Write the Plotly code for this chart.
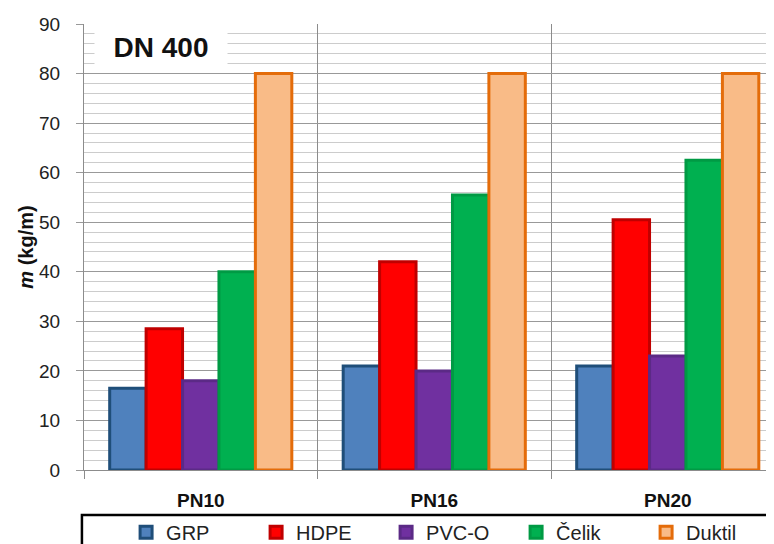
import plotly.graph_objects as go

categories = ["PN10", "PN16", "PN20"]
series_names = ["GRP", "HDPE", "PVC-O", "Čelik", "Duktil"]
grp = [16.5, 21.0, 21.0]
hdpe = [28.5, 42.0, 50.5]
pvco = [18.0, 20.0, 23.0]
celik = [40.0, 55.5, 62.5]
duktil = [80.0, 80.0, 80.0]
y_ticks = [0, 10, 20, 30, 40, 50, 60, 70, 80, 90]

values = [grp, hdpe, pvco, celik, duktil]
fills = ["#4F81BD", "#FF0000", "#7030A0", "#00B050", "#F9BB87"]
lines = ["#1F4E79", "#C00000", "#5B2A86", "#009A44", "#E46C0A"]

font = "Liberation Sans, Arial, sans-serif"

fig = go.Figure()
for name, vals, fc, lc in zip(series_names, values, fills, lines):
    fig.add_trace(go.Bar(
        x=categories, y=vals, name=name,
        marker=dict(color=fc, line=dict(color=lc, width=3)),
    ))

fig.update_layout(
    width=766, height=536,
    margin=dict(l=76, r=0, t=16, b=74, autoexpand=False),
    paper_bgcolor="white", plot_bgcolor="white",
    barmode="group", bargap=0.22, bargroupgap=0,
    font=dict(family=font, color="#222222"),
    showlegend=True,
    legend=dict(
        orientation="h", x=0.061, xanchor="left", y=-0.096, yanchor="top",
        font=dict(size=20, color="#222222", family=font),
        entrywidth=85, entrywidthmode="pixels",
        itemwidth=30, bgcolor="rgba(0,0,0,0)", tracegroupgap=0,
    ),
    xaxis=dict(
        range=[-0.5, 2.455], tickson="boundaries", showgrid=True,
        gridcolor="#8C8C8C", gridwidth=1, ticks="outside", ticklen=8,
        tickcolor="#8C8C8C", showline=True, linecolor="#8C8C8C",
        tickfont=dict(size=19, family=font, color="#111111", weight="bold"),
        ticklabelstandoff=13, zeroline=False, automargin=False,
    ),
    yaxis=dict(
        range=[0, 90], tickvals=y_ticks, showgrid=True, gridcolor="#999999",
        gridwidth=1.2, ticks="outside", ticklen=7, tickcolor="#999999",
        showline=True, linecolor="#8C8C8C", zeroline=False, automargin=False,
        tickfont=dict(size=19, family=font, color="#222222"),
        ticklabelstandoff=12,
        minor=dict(dtick=2, showgrid=True, gridcolor="#CCCCCC", gridwidth=1.2),
        title=dict(text="<i>m</i> (kg/m)", font=dict(size=20, family=font, color="#111111", weight="bold"), standoff=0),
    ),
    shapes=[dict(type="rect", xref="paper", yref="paper", x0=-0.003, x1=1.05,
                 y0=-0.101, y1=-0.3, line=dict(color="black", width=2.5),
                 fillcolor="rgba(0,0,0,0)", layer="above")],
    annotations=[dict(text="<b>DN 400</b>", xref="paper", yref="paper",
                      x=0.111, y=0.948, xanchor="center", yanchor="middle",
                      showarrow=False, bgcolor="white", borderpad=4,
                      width=124, height=30,
                      font=dict(size=28, family=font, color="#111111"))],
)

fig.write_html("out.html")
